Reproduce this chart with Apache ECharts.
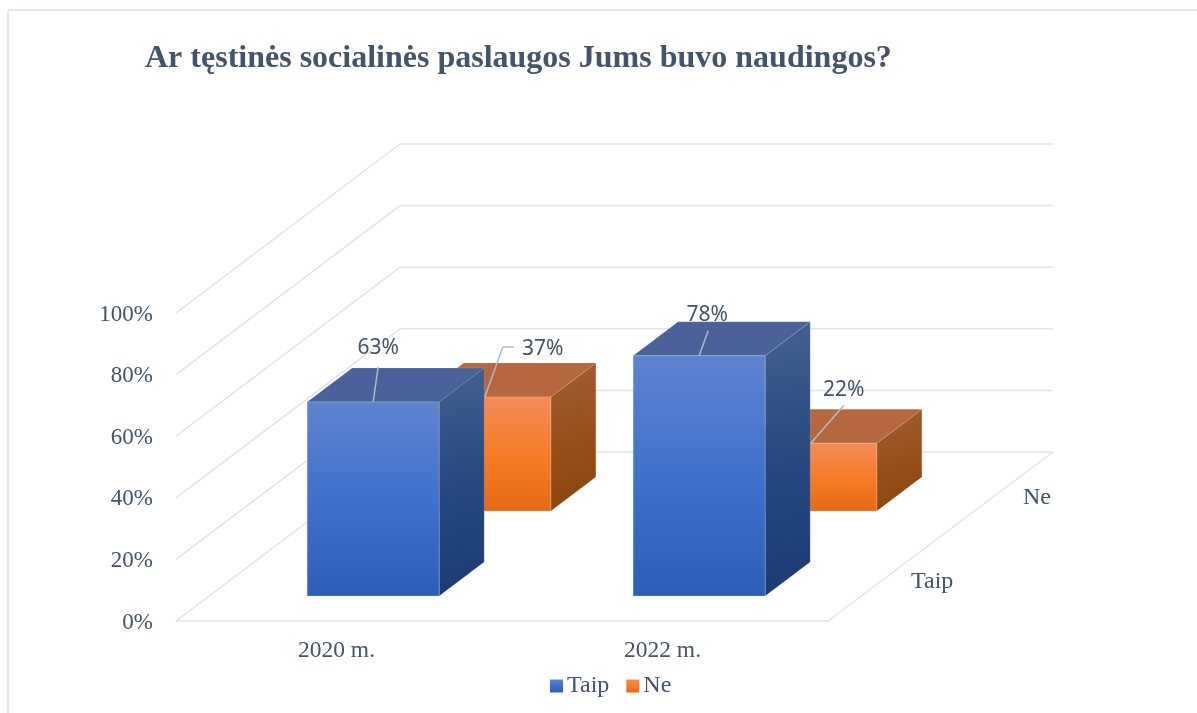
<!DOCTYPE html>
<html>
<head>
<meta charset="utf-8">
<title>Ar tęstinės socialinės paslaugos Jums buvo naudingos?</title>
<style>
html, body { margin: 0; padding: 0; background: #fff; }
#main { width: 1197px; height: 713px; }
</style>
<script src="https://cdn.jsdelivr.net/npm/echarts@6/dist/echarts.min.js"></script>
</head>
<body>
<div id="main"></div>
<script>
// chart data
var titleText = 'Ar tęstinės socialinės paslaugos Jums buvo naudingos?';
var categories = ['2020 m.', '2022 m.'];
var taipValues = [63, 78];
var neValues = [37, 22];
var yTicks = [0, 20, 40, 60, 80, 100];
var depthNames = ['Taip', 'Ne'];

// fake 3D projection: how far the back of the floor is shifted, in px
var depthX = 224;
var depthY = 169;
var serifFont = '"Liberation Serif", serif';
var textColor = '#44546a';
var wallColor = '#e1e4ec';

// label placement relative to the top front centre of each bar
var taipLabels = [
    {line: [[5, -35]], text: [5, -54]},
    {line: [[9, -25]], text: [8, -41]}
];
var neLabels = [
    {line: [[18, -50], [29, -50]], text: [58, -48]},
    {line: [[33, -38]], text: [33, -53]}
];

var grad = echarts.graphic.LinearGradient;
var taipColors = {
    front: new grad(0, 0, 0, 1, [{offset: 0, color: '#6083cf'}, {offset: 0.55, color: '#3d6fcb'}, {offset: 1, color: '#2d5eb6'}]),
    side: new grad(0, 0, 1, 1, [{offset: 0, color: '#44608f'}, {offset: 0.5, color: '#28487f'}, {offset: 1, color: '#1b3a75'}]),
    top: '#4a6299',
    edge: 'rgba(200,212,238,0.3)'
};
var neColors = {
    front: new grad(0, 0, 0, 1, [{offset: 0, color: '#f38c57'}, {offset: 0.55, color: '#f57a25'}, {offset: 1, color: '#e46a15'}]),
    side: new grad(0, 0, 1, 1, [{offset: 0, color: '#a05e35'}, {offset: 0.5, color: '#98501b'}, {offset: 1, color: '#8b430c'}]),
    top: '#b5683f',
    edge: 'rgba(250,200,170,0.3)'
};

function project(api, cat, value, depth, shift) {
    var p = api.coord([cat, value]);
    return [p[0] + shift + depth * depthX, p[1] - depth * depthY];
}

// returns a renderItem for one row of boxes, depth0/depth1 are fractions of the floor depth
function boxRenderer(colors, depth0, depth1, labels, nudge) {
    return function (params, api) {
        var cat = api.value(0);
        var val = api.value(1);
        var half = api.size([1, 0])[0] * 0.2025;
        var a = project(api, cat, 0, depth0, nudge - half);
        var b = project(api, cat, 0, depth0, nudge + half);
        var c = project(api, cat, val, depth0, nudge + half);
        var d = project(api, cat, val, depth0, nudge - half);
        var e = project(api, cat, 0, depth1, nudge + half);
        var f = project(api, cat, val, depth1, nudge + half);
        var g = project(api, cat, val, depth1, nudge - half);
        var anchor = project(api, cat, val, depth0, nudge);
        var lab = labels[params.dataIndex];
        var linePts = [anchor].concat(lab.line.map(function (o) {
            return [anchor[0] + o[0], anchor[1] + o[1]];
        }));
        return {
            type: 'group',
            children: [
                {type: 'polygon', shape: {points: [b, e, f, c]}, style: {fill: colors.side, stroke: colors.edge, lineWidth: 0.6}},
                {type: 'polygon', shape: {points: [d, c, f, g]}, style: {fill: colors.top, stroke: colors.edge, lineWidth: 0.6}},
                {type: 'polygon', shape: {points: [a, b, c, d]}, style: {fill: colors.front, stroke: colors.edge, lineWidth: 1}},
                {type: 'polyline', shape: {points: linePts}, style: {fill: 'none', stroke: '#aebbcb', lineWidth: 1.5}},
                {
                    type: 'text',
                    x: anchor[0] + lab.text[0],
                    y: anchor[1] + lab.text[1],
                    style: {
                        text: val + '%',
                        fill: textColor,
                        font: '21px "Noto Sans", sans-serif',
                        align: 'center',
                        verticalAlign: 'middle'
                    }
                }
            ]
        };
    };
}

function renderWalls(params, api) {
    var left = params.coordSys.x;
    var right = left + params.coordSys.width;
    var y = api.coord([0, api.value(1)])[1];
    var lineStyle = {stroke: wallColor, lineWidth: 1.5, fill: 'none'};
    var children = [{
        type: 'polyline',
        shape: {points: [[left, y], [left + depthX, y - depthY], [right + depthX + 1, y - depthY]]},
        style: lineStyle
    }];
    // floor edge and the depth axis names go with the bottom tick
    if (params.dataIndex === 0) {
        children.push({
            type: 'line',
            shape: {x1: right, y1: y, x2: right + depthX + 1, y2: y - depthY},
            style: lineStyle
        });
        depthNames.forEach(function (name, i) {
            var d = (i + 0.5) / depthNames.length;
            children.push({
                type: 'text',
                x: right + d * depthX + 27,
                y: y - d * depthY + 3,
                style: {
                    text: name,
                    fill: textColor,
                    font: '24px ' + serifFont,
                    align: 'left',
                    verticalAlign: 'middle'
                }
            });
        });
    }
    return {type: 'group', children: children};
}

function toPairs(values) {
    return values.map(function (v, i) { return [i, v]; });
}

var myChart = echarts.init(document.getElementById('main'), null, {renderer: 'canvas'});

var option = {
    animation: false,
    backgroundColor: '#fff',
    title: {
        text: titleText,
        left: 140,
        top: 38,
        textStyle: {fontFamily: serifFont, fontWeight: 'bold', fontSize: 32, color: textColor}
    },
    legend: {
        left: 545,
        top: 669,
        itemWidth: 13,
        itemHeight: 13,
        itemGap: 17,
        icon: 'rect',
        data: depthNames,
        textStyle: {fontFamily: serifFont, fontSize: 24, color: textColor, padding: [0, 0, 0, -1]}
    },
    grid: {left: 176, top: 313, width: 652, height: 308},
    xAxis: {
        type: 'category',
        data: categories,
        axisTick: {show: false},
        axisLine: {lineStyle: {color: wallColor, width: 1.5}},
        axisLabel: {fontFamily: serifFont, fontSize: 23.5, color: textColor, margin: 18, padding: [0, 5, 0, 0]}
    },
    yAxis: {
        type: 'value',
        min: 0,
        max: 100,
        interval: 20,
        axisLine: {show: false},
        axisTick: {show: false},
        splitLine: {show: false},
        axisLabel: {
            formatter: '{value}%',
            fontFamily: serifFont,
            fontSize: 23,
            color: textColor,
            margin: 23,
            verticalAlign: 'bottom',
            padding: [0, 0, -13, 0]
        }
    },
    series: [
        {
            name: 'walls',
            type: 'custom',
            z: 1,
            silent: true,
            renderItem: renderWalls,
            encode: {x: 0, y: 1},
            data: toPairs(yTicks)
        },
        {
            name: 'Taip',
            type: 'custom',
            z: 3,
            itemStyle: {color: taipColors.front},
            renderItem: boxRenderer(taipColors, 0.148, 0.349, taipLabels, 1),
            encode: {x: 0, y: 1},
            data: toPairs(taipValues)
        },
        {
            name: 'Ne',
            type: 'custom',
            z: 2,
            itemStyle: {color: neColors.front},
            renderItem: boxRenderer(neColors, 0.651, 0.852, neLabels, 0),
            encode: {x: 0, y: 1},
            data: toPairs(neValues)
        }
    ],
    graphic: [
        // outer chart border, cut off by the picture on the right and bottom
        {type: 'line', shape: {x1: 8, y1: 10, x2: 8, y2: 713}, style: {stroke: '#e3e7ef', lineWidth: 2}},
        {type: 'line', shape: {x1: 8, y1: 10, x2: 1197, y2: 10}, style: {stroke: '#e3e7ef', lineWidth: 2}}
    ]
};

myChart.setOption(option);
</script>
</body>
</html>
